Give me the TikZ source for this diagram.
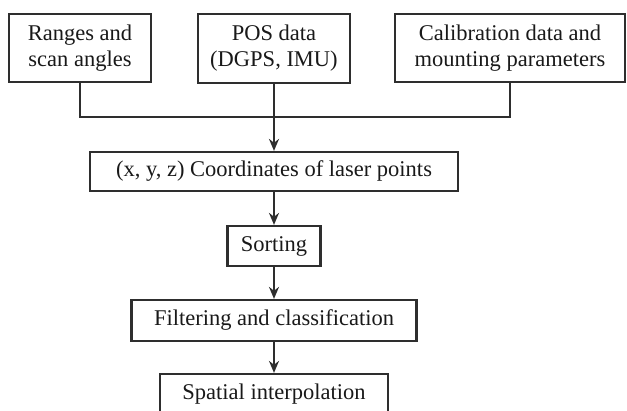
\documentclass[tikz,border=0pt]{standalone}
\usepackage{fontspec}
\setmainfont{Liberation Serif}
\usetikzlibrary{arrows.meta}
\definecolor{linegray}{HTML}{2E2E2E}
\tikzset{
  box/.style={draw=linegray, line width=2.2pt, text=black!90, align=center,
    inner sep=0pt, font=\fontsize{22.5}{26}\selectfont},
  wire/.style={draw=linegray, line width=2.2pt},
  flow/.style={wire, -{Stealth[length=12pt,width=10pt]}}
}
\begin{document}
\begin{tikzpicture}[x=1pt,y=-1pt]
  \useasboundingbox (0,0) rectangle (627,411);
  \clip (0,0) rectangle (627,411);

  % 上段の入力ボックス(3つ)
  \node[box, minimum width=142pt, minimum height=68pt] (ranges) at (80,48) {Ranges and\\scan angles};
  \node[box, minimum width=152pt, minimum height=69pt] (pos) at (274,48.5) {POS data\\(DGPS, IMU)};
  \node[box, minimum width=230pt, minimum height=68pt] (calib) at (510,48) {Calibration data and\\mounting parameters};

  % 合流点
  \coordinate (join) at (274,117);

  % 処理の流れ(縦に並べる)
  \node[box, minimum width=368pt, minimum height=39pt] (coords) at (274,171.5) {(x, y, z) Coordinates of laser points};
  \node[box, minimum width=93pt, minimum height=40pt] (sorting) at (274,246) {Sorting};
  \node[box, minimum width=285pt, minimum height=41pt] (filter) at (274,320.5) {Filtering and classification};
  \node[box, minimum width=228pt, minimum height=40pt] (interp) at (274,394) {Spatial interpolation};

  % 入力をまとめる線
  \draw[wire] (ranges.south) |- (join) -| (calib.south);
  \draw[flow] (pos.south) -- (coords.north);

  % 矢印
  \draw[flow] (coords) -- (sorting);
  \draw[flow] (sorting) -- (filter);
  \draw[flow] (filter) -- (interp);
\end{tikzpicture}
\end{document}
